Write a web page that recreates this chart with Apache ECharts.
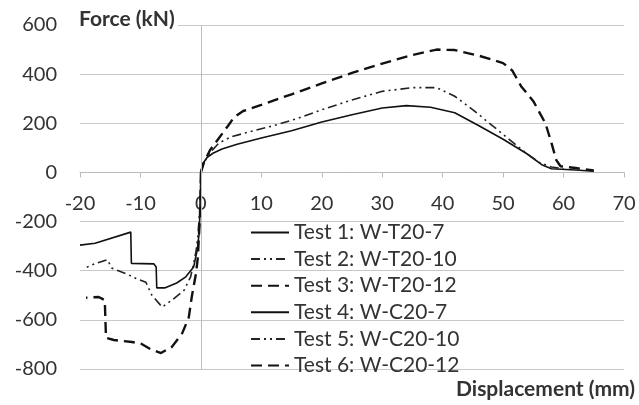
<!DOCTYPE html>
<html>
<head>
<meta charset="utf-8">
<script src="https://cdn.jsdelivr.net/npm/echarts@6/dist/echarts.min.js"></script>
<style>
  html, body { margin: 0; padding: 0; background: #fff; }
  #chart { width: 639px; height: 405px; }
</style>
</head>
<body>
<div id="chart"></div>
<script>
// displacement (mm), force (kN) pairs
const test1 = [[0,0],[0.3,35],[1,60],[2,78],[3.5,95],[6,115],[10,140],[15,170],[20,205],[25,235],[30,262],[34,272],[38,265],[42,243],[46,190],[50,135],[54,75],[56.5,30],[58,15],[62,10],[65,5]];
const test2 = [[0,0],[0.5,40],[1.5,80],[3,120],[5,145],[8,165],[12,190],[16,220],[20,255],[25,295],[30,330],[35,345],[39,345],[42,310],[45,255],[48,195],[51,135],[54,75],[56,40],[58,22],[60,15]];
const test3 = [[0,0],[0.5,40],[1.5,90],[3,140],[4.5,190],[5.5,225],[7,250],[10,275],[15,318],[20,362],[25,405],[30,443],[35,478],[39,500],[42,498],[46,475],[50,445],[51.5,415],[53,350],[55,290],[57,200],[58,120],[58.8,50],[59.5,25],[62,18],[65,8]];
const test4 = [[0,0],[-0.1,-130],[-0.3,-250],[-0.6,-315],[-1.2,-385],[-2.5,-425],[-4,-450],[-6,-470],[-7.3,-470],[-7.4,-385],[-7.8,-372],[-11.5,-370],[-11.6,-243],[-17.5,-288],[-20,-296]];
const test5 = [[0,0],[-0.1,-120],[-0.5,-260],[-0.8,-320],[-1.2,-370],[-1.7,-425],[-2.8,-480],[-4.8,-520],[-6.4,-548],[-8.1,-500],[-9.1,-447],[-10.7,-432],[-12.4,-412],[-14.7,-390],[-15.5,-355],[-17.4,-370],[-19.3,-390]];
const test6 = [[0,0],[-0.1,-150],[-0.5,-345],[-0.8,-410],[-1.5,-505],[-2,-590],[-3.1,-655],[-4.8,-710],[-6.6,-735],[-8.3,-720],[-9.8,-698],[-11.4,-690],[-14.4,-682],[-15.7,-673],[-15.9,-520],[-16.9,-507],[-19,-510]];

const names = ['Test 1: W-T20-7', 'Test 2: W-T20-10', 'Test 3: W-T20-12',
               'Test 4: W-C20-7', 'Test 5: W-C20-10', 'Test 6: W-C20-12'];

const font = 'Lato, "Open Sans", sans-serif';
const solid = { type: 'solid', width: 1.6, color: '#111' };
const dashDot = { type: [9, 4, 2, 4, 2, 4], width: 1.6, color: '#222' };
const longDash = { type: [11, 6], width: 2.4, color: '#111' };

function line(name, data, style, extra) {
  return Object.assign({
    name: name,
    type: 'line',
    data: data,
    showSymbol: false,
    symbol: 'none',
    lineStyle: style,
    itemStyle: { color: style.color }
  }, extra || {});
}

// grid geometry (y of the zero line is used to lift the x axis onto it)
const gridTop = 25, gridBottom = 36, chartH = 405;
const yMin = -800, yMax = 600;
const plotH = chartH - gridTop - gridBottom;
const zeroOffset = plotH * (0 - yMin) / (yMax - yMin);

const chart = echarts.init(document.getElementById('chart'));
chart.setOption({
  animation: false,
  title: [
    {
      text: 'Force (kN)', left: 76, top: 9,
      backgroundColor: '#fff', padding: [0, 3],
      textStyle: { fontFamily: font, fontSize: 21, fontWeight: 'bold', color: '#333' }
    },
    {
      text: 'Displacement (mm)', right: 4, top: 379, padding: 0,
      textStyle: { fontFamily: font, fontSize: 21, fontWeight: 'bold', color: '#333' }
    }
  ],
  legend: {
    orient: 'vertical', left: 250, top: 222, padding: 0,
    itemWidth: 38, itemHeight: 14, itemGap: 5.6,
    itemStyle: { opacity: 0 },
    textStyle: { fontFamily: font, fontSize: 21, color: '#333' },
    data: names
  },
  grid: { left: 80, right: 15, top: gridTop, bottom: gridBottom },
  xAxis: {
    type: 'value', min: -20, max: 70, interval: 10,
    position: 'bottom', offset: -zeroOffset,
    splitLine: { show: false },
    axisLine: { onZero: false, lineStyle: { color: '#bbb' } },
    axisTick: { show: true, length: 5, lineStyle: { color: '#bbb' } },
    axisLabel: { margin: 21, fontFamily: font, fontSize: 20, color: '#333' }
  },
  yAxis: {
    type: 'value', min: yMin, max: yMax, interval: 200,
    axisLine: { show: false, onZero: false },
    axisTick: { show: false },
    splitLine: { lineStyle: { color: '#c8c8c8' } },
    axisLabel: { margin: 23, fontFamily: font, fontSize: 20, color: '#333' }
  },
  series: [
    line(names[0], test1, solid, {
      markLine: {
        silent: true, symbol: 'none', label: { show: false },
        lineStyle: { color: '#bbb', type: 'solid', width: 1 },
        data: [{ xAxis: 0 }]
      }
    }),
    line(names[1], test2, dashDot),
    line(names[2], test3, longDash),
    line(names[3], test4, solid),
    line(names[4], test5, dashDot),
    line(names[5], test6, longDash)
  ]
});
</script>
</body>
</html>
